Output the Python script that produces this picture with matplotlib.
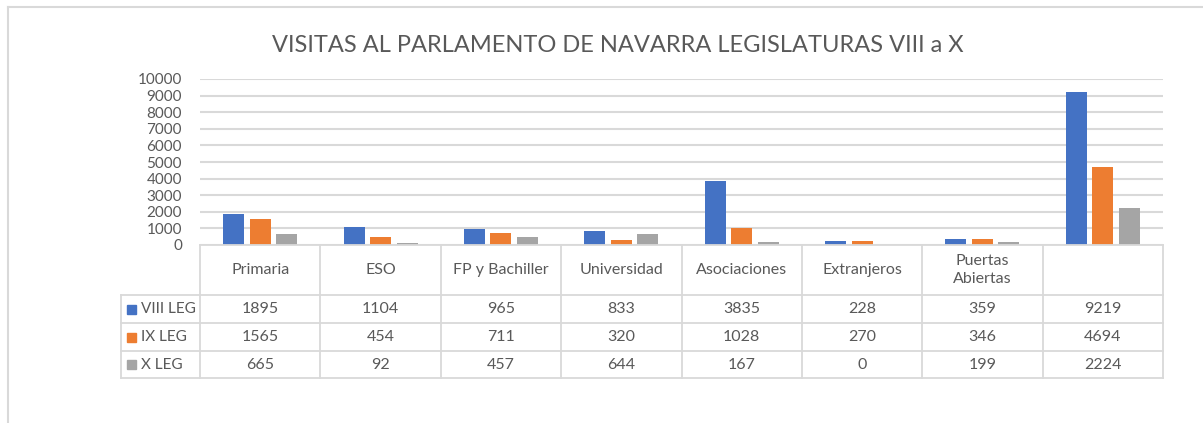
import matplotlib
matplotlib.use("Agg")
import matplotlib.pyplot as plt
from matplotlib.transforms import blended_transform_factory
from matplotlib.lines import Line2D
from matplotlib.patches import Rectangle

categories = ["Primaria", "ESO", "FP y Bachiller", "Universidad", "Asociaciones",
              "Extranjeros", "Puertas\nAbiertas", ""]
series_names = ["VIII LEG", "IX LEG", "X LEG"]
viii_leg = [1895, 1104, 965, 833, 3835, 228, 359, 9219]
ix_leg = [1565, 454, 711, 320, 1028, 270, 346, 4694]
x_leg = [665, 92, 457, 644, 167, 0, 199, 2224]
yticks = list(range(0, 10001, 1000))
title = "VISITAS AL PARLAMENTO DE NAVARRA LEGISLATURAS VIII a X"

colors = ["#4472C4", "#ED7D31", "#A5A5A5"]
text_color = "#595959"
grid_color = "#D9D9D9"
FONT = "Lato"
plt.rcParams['font.family'] = [FONT, 'DejaVu Sans']

W, H = 1203, 423
fig = plt.figure(figsize=(W / 100, H / 100), dpi=100)

def fx(px):
    return px / W

def fy(py):
    return 1 - py / H

ax_left, ax_right, ax_top, ax_bottom = 200, 1163, 79, 245
ax = fig.add_axes([fx(ax_left), fy(ax_bottom), fx(ax_right - ax_left), fy(ax_top) - fy(ax_bottom)])
n = len(categories)
ax.set_xlim(-0.5, n - 0.5)
ax.set_ylim(0, 10000)
ax.set_yticks(yticks)
ax.set_yticklabels([str(t) for t in yticks], fontsize=11, color=text_color)
ax.tick_params(axis='y', length=0, pad=13)
ax.set_xticks([])
for s in ax.spines.values():
    s.set_visible(False)
ax.yaxis.grid(True, color=grid_color, linewidth=1.5)
ax.set_axisbelow(True)

data = [viii_leg, ix_leg, x_leg]
bw = 0.175
step = 0.22
for i, (vals, c) in enumerate(zip(data, colors)):
    xs = [k + (i - 1) * step for k in range(n)]
    ax.bar(xs, vals, width=bw, color=c, zorder=3)

fig.text(fx(618), fy(45), title, ha='center', va='center', fontsize=17, color=text_color)

# data table
tr = blended_transform_factory(ax.transData, fig.transFigure)
unit = (ax_right - ax_left) / n
leg_left = -0.5 - (ax_left - 121) / unit
rows_y = [245, 295, 323, 351, 378]
lw = 1.3

def hline(x0, x1, py):
    fig.add_artist(Line2D([x0, x1], [fy(py), fy(py)], transform=tr, color=grid_color, lw=lw, clip_on=False))

def vline(x, py0, py1):
    fig.add_artist(Line2D([x, x], [fy(py0), fy(py1)], transform=tr, color=grid_color, lw=lw, clip_on=False))

hline(-0.5, n - 0.5, rows_y[0])
for py in rows_y[1:]:
    hline(leg_left, n - 0.5, py)
for k in range(n + 1):
    vline(k - 0.5, rows_y[0], rows_y[-1])
vline(leg_left, rows_y[1], rows_y[-1])

hdr_y = (rows_y[0] + rows_y[1]) / 2
for k, cat in enumerate(categories):
    fig.text(k, fy(hdr_y), cat, transform=tr, ha='center', va='center', fontsize=11.5,
             color=text_color, linespacing=1.4)

for r, (name, vals, c) in enumerate(zip(series_names, data, colors)):
    cy = (rows_y[r + 1] + rows_y[r + 2]) / 2
    for k, v in enumerate(vals):
        fig.text(k, fy(cy), str(v), transform=tr, ha='center', va='center', fontsize=11.5, color=text_color)
    fig.add_artist(Rectangle((fx(127), fy(cy + 4.5)), fx(9), fy(cy - 4.5) - fy(cy + 4.5),
                             transform=fig.transFigure, color=c))
    fig.text(fx(141), fy(cy), name, ha='left', va='center', fontsize=11, color=text_color)

# chart area border
fig.add_artist(Line2D([fx(8), fx(8)], [fy(7), 0], transform=fig.transFigure, color=grid_color, lw=1.5))
fig.add_artist(Line2D([fx(8), 1], [fy(7), fy(7)], transform=fig.transFigure, color=grid_color, lw=1.5))

fig.savefig("out.png", dpi=100, facecolor="white")
